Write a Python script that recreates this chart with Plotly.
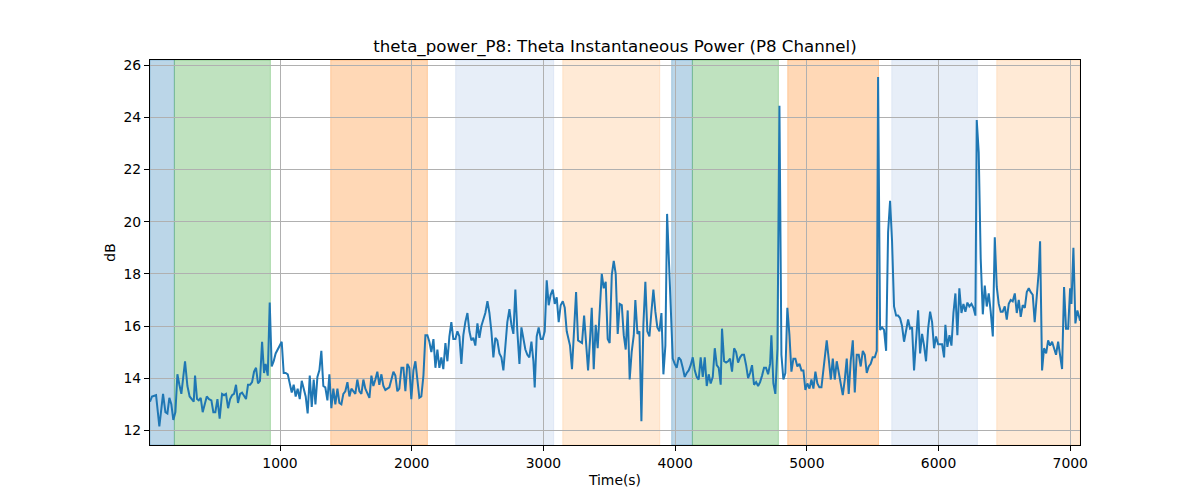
import plotly.graph_objects as go

# ---- data ----
time_s = [
    13, 28, 59, 84, 112, 130, 145, 160, 175, 190, 206, 221, 236, 251, 279, 297, 314, 335, 345, 355,
    370, 383, 398, 413, 428, 444, 461, 479, 494, 509, 525, 542, 560, 575, 590, 606, 621, 636, 651, 666,
    681, 697, 712, 727, 742, 757, 773, 788, 803, 818, 833, 848, 864, 879, 891, 907, 922, 937, 952, 967,
    985, 1013, 1028, 1043, 1059, 1074, 1089, 1104, 1119, 1134, 1150, 1165, 1180, 1195, 1210, 1226, 1241, 1256,
    1269, 1284, 1299, 1314, 1329, 1344, 1360, 1375, 1390, 1405, 1420, 1436, 1451, 1466, 1481, 1496, 1512, 1527, 1542, 1557,
    1572, 1587, 1603, 1618, 1633, 1648, 1663, 1679, 1694, 1709, 1724, 1739, 1754, 1770, 1785, 1800, 1815, 1830, 1846, 1861,
    1876, 1891, 1906, 1922, 1937, 1952, 1967, 1982, 1997, 2013, 2028, 2043, 2058, 2073, 2089, 2104, 2119, 2134, 2149, 2165,
    2180, 2195, 2210, 2225, 2240, 2256, 2271, 2286, 2301, 2316, 2332, 2347, 2362, 2377, 2392, 2407, 2423, 2438, 2453, 2468,
    2483, 2499, 2514, 2529, 2544, 2559, 2575, 2590, 2605, 2620, 2635, 2650, 2666, 2681, 2696, 2711, 2726, 2742, 2757, 2772,
    2787, 2802, 2818, 2833, 2848, 2863, 2878, 2893, 2909, 2924, 2934, 2949, 2964, 2980, 2995, 3010, 3025, 3040, 3055, 3071,
    3086, 3101, 3116, 3131, 3147, 3162, 3177, 3192, 3202, 3217, 3233, 3248, 3263, 3278, 3293, 3309, 3324, 3339, 3354, 3367,
    3382, 3397, 3412, 3428, 3443, 3458, 3473, 3488, 3503, 3519, 3534, 3549, 3564, 3579, 3595, 3610, 3625, 3640, 3655, 3670, 3686,
    3698, 3714, 3729, 3744, 3759, 3774, 3789, 3805, 3820, 3835, 3850, 3865, 3881, 3896, 3911, 3926, 3939, 3951, 3967, 3982,
    3997, 4012, 4027, 4043, 4058, 4073, 4088, 4103, 4118, 4134, 4149, 4164, 4179, 4194, 4210, 4225, 4240, 4255, 4270, 4286,
    4301, 4316, 4331, 4346, 4356, 4372, 4387, 4402, 4417, 4432, 4448, 4463, 4478, 4493, 4508, 4523, 4539, 4554, 4569, 4584,
    4599, 4615, 4630, 4645, 4660, 4675, 4690, 4706, 4721, 4731, 4746, 4761, 4777, 4792, 4807, 4822, 4837, 4852, 4868, 4883, 4898,
    4913, 4928, 4944, 4959, 4974, 4989, 5004, 5020, 5035, 5050, 5065, 5080, 5095, 5111, 5126, 5141, 5151, 5166, 5182, 5197,
    5212, 5227, 5242, 5257, 5273, 5288, 5303, 5318, 5333, 5349, 5364, 5379, 5394, 5409, 5425, 5440, 5455, 5470, 5485, 5500,
    5516, 5531, 5541, 5556, 5571, 5586, 5602, 5617, 5632, 5647, 5662, 5678, 5693, 5708, 5723, 5738, 5754, 5769, 5784, 5799,
    5814, 5829, 5845, 5860, 5875, 5890, 5905, 5921, 5936, 5951, 5966, 5981, 5997, 6012, 6027, 6042,
    6052, 6067, 6083, 6098, 6113, 6128, 6143, 6158, 6174, 6189, 6204, 6219, 6234, 6250, 6265, 6280, 6290, 6305, 6320, 6336,
    6351, 6366, 6381, 6396, 6412, 6427, 6442, 6457, 6472, 6487, 6503, 6518, 6533, 6548, 6563, 6579, 6594, 6609, 6624, 6639,
    6655, 6670, 6685, 6700, 6715, 6730, 6746, 6761, 6771, 6786, 6801, 6817, 6832, 6847, 6862, 6877, 6892, 6908, 6923, 6938,
    6953, 6968, 6984, 6999, 7009, 7024, 7039, 7054, 7070, 7074,
]

power_db = [
    13.1, 13.3, 13.35, 12.15, 13.4, 12.7, 12.65, 13.25, 13.0, 12.4, 12.7, 14.15, 13.75, 13.4, 14.65, 13.7, 13.3, 13.15, 13.1, 14.1,
    13.2, 13.15, 13.25, 12.7, 12.95, 13.3, 13.2, 13.15, 12.7, 12.7, 13.2, 12.45, 13.4, 13.35, 13.4, 12.85, 13.2, 13.35, 13.4, 13.75,
    13.05, 13.4, 13.45, 13.3, 13.2, 13.75, 13.75, 13.85, 14.25, 14.4, 13.8, 13.9, 15.4, 14.2, 14.55, 14.1, 16.9, 14.45, 14.65, 14.95,
    15.15, 15.4, 14.2, 14.2, 14.15, 13.75, 13.45, 13.75, 13.3, 13.6, 13.2, 13.9, 13.6, 13.3, 12.65, 14.1, 12.9, 13.95,
    13.0, 14.05, 14.3, 15.05, 13.7, 13.65, 13.15, 14.15, 12.85, 13.6, 13.0, 13.6, 13.05, 13.0, 13.4, 13.5, 13.85, 13.3, 13.6, 13.5,
    13.4, 13.95, 13.5, 13.4, 13.95, 13.6, 13.4, 13.25, 14.1, 13.7, 13.95, 14.25, 13.75, 14.15, 13.7, 13.55, 13.6, 13.65, 13.95, 14.25,
    14.1, 13.5, 13.6, 14.4, 14.4, 13.5, 14.55, 14.4, 13.2, 14.3, 14.65, 13.95, 13.25, 13.3, 14.1, 15.65, 15.65, 15.4, 15.0, 15.5,
    14.4, 15.1, 14.4, 14.8, 14.35, 15.35, 14.65, 15.6, 16.15, 15.5, 15.5, 15.8, 15.6, 14.55, 15.65, 16.15, 16.5, 15.8, 15.45, 15.55,
    15.25, 16.1, 15.55, 16.0, 16.25, 16.5, 16.95, 16.5, 15.8, 14.8, 15.55, 15.45, 14.95, 14.8, 14.3, 15.15, 16.15, 16.65, 16.05, 15.7,
    17.4, 15.8, 14.55, 15.95, 15.45, 15.1, 14.9, 14.8, 15.4, 14.65, 13.65, 15.6, 15.95, 15.5, 15.5, 15.8, 17.75, 16.8, 17.2, 17.4,
    16.85, 17.1, 16.15, 16.8, 16.95, 16.7, 15.8, 15.5, 15.25, 14.35, 16.15, 17.3, 15.45, 15.4, 15.35, 16.4, 15.4, 14.3, 15.5, 16.7,
    14.35, 16.05, 15.15, 16.95, 18.0, 17.45, 17.7, 15.5, 15.35, 17.95, 18.5, 18.0, 15.7, 16.85, 16.8, 15.65, 15.1, 16.6, 13.95, 15.0, 15.65,
    17.0, 15.7, 15.8, 12.35, 16.05, 17.7, 15.8, 15.6, 16.55, 17.4, 16.55, 15.95, 15.8, 16.5, 14.15, 15.25, 20.3, 18.85, 16.65, 14.75,
    14.55, 14.4, 14.8, 14.7, 14.4, 14.05, 14.2, 14.3, 14.5, 14.8, 14.3, 14.05, 13.95, 14.8, 14.05, 14.8, 13.7, 14.15, 13.8, 14.05,
    15.15, 14.5, 14.4, 13.75, 15.9, 14.65, 14.6, 14.65, 14.75, 14.25, 15.15, 15.0, 14.6, 14.8, 14.9, 14.9, 14.5, 14.0, 14.2, 14.5,
    13.75, 13.85, 13.7, 13.85, 14.1, 14.4, 14.4, 14.15, 14.55, 15.65, 13.8, 13.4, 15.15, 24.45, 14.9, 13.95, 14.2, 16.7, 15.65, 14.25, 14.75,
    14.75, 14.45, 14.55, 14.3, 14.3, 13.55, 13.8, 13.6, 13.95, 13.6, 14.25, 13.8, 13.65, 13.65, 14.4, 15.0, 15.45, 14.75, 13.95, 14.75,
    13.95, 14.65, 14.25, 13.75, 13.35, 13.95, 14.75, 13.4, 14.65, 15.45, 13.45, 14.9, 14.9, 14.45, 15.05, 14.9, 14.2, 14.45, 14.55, 14.8,
    14.8, 15.05, 25.55, 15.85, 15.95, 15.85, 15.05, 19.6, 20.8, 19.25, 16.75, 16.4, 16.4, 16.3, 16.0, 15.4, 15.8, 16.25, 15.9, 15.95,
    14.3, 15.65, 16.6, 14.95, 15.7, 15.25, 14.65, 15.9, 16.55, 16.15, 15.15, 15.6, 15.3, 15.3, 15.3, 14.8,
    16.05, 15.2, 15.65, 15.25, 16.5, 17.25, 15.65, 17.45, 16.5, 16.85, 16.55, 16.9, 16.75, 16.85, 16.7, 16.4, 23.9, 22.65, 18.6, 16.45,
    17.55, 16.75, 17.25, 16.55, 15.6, 19.4, 17.5, 16.85, 16.55, 16.55, 16.75, 16.25, 16.85, 17.0, 16.95, 17.25, 16.5, 17.0, 16.35, 16.8,
    16.7, 17.3, 17.45, 17.3, 17.2, 16.15, 17.05, 18.1, 19.25, 14.3, 15.15, 14.95, 15.45, 15.25, 15.4, 15.15, 14.9, 15.4, 14.95, 14.35,
    17.5, 15.9, 15.9, 17.45, 16.85, 19.0, 16.1, 16.6, 16.3, 16.2,
]

span_starts = [13, 198, 1385, 2334, 3147, 3974, 4131, 4855, 5645, 6442]
span_ends = [198, 927, 2119, 3078, 3883, 4131, 4784, 5544, 6295, 7074]
span_colors = ["31,119,180", "44,160,44", "255,127,14", "174,199,232", "255,187,120",
               "31,119,180", "44,160,44", "255,127,14", "174,199,232", "255,187,120"]

x_ticks = [1000, 2000, 3000, 4000, 5000, 6000, 7000]
y_ticks = [12, 14, 16, 18, 20, 22, 24, 26]

FONT = "DejaVu Sans"
TICK_SIZE = 13.9
TITLE_SIZE = 16.67

fig = go.Figure()

for s, e, c in zip(span_starts, span_ends, span_colors):
    fig.add_vrect(x0=s, x1=e, fillcolor=f"rgba({c},0.3)",
                  line=dict(color=f"rgba({c},0.3)", width=1), layer="below")

fig.add_trace(go.Scatter(x=time_s, y=power_db, mode="lines",
                         line=dict(color="#1f77b4", width=2), showlegend=False))

axis_common = dict(
    showgrid=True, gridcolor="#b0b0b0", gridwidth=1,
    showline=True, linecolor="black", linewidth=1, mirror=True,
    ticks="outside", ticklen=5, tickwidth=1, tickcolor="black",
    tickfont=dict(family=FONT, size=TICK_SIZE, color="black"),
    zeroline=False,
)

fig.update_layout(
    width=1200, height=500,
    margin=dict(l=150, r=120, t=60, b=55),
    paper_bgcolor="white", plot_bgcolor="white",
    font=dict(family=FONT, color="black"),
    title=dict(text="theta_power_P8: Theta Instantaneous Power (P8 Channel)",
               x=0.5, xref="paper", xanchor="center",
               y=1 - 46 / 500, yref="container", yanchor="middle",
               font=dict(family=FONT, size=TITLE_SIZE, color="black")),
    xaxis=dict(range=[13, 7074], tickvals=x_ticks,
               title=dict(text="Time(s)", font=dict(family=FONT, size=TICK_SIZE, color="black"), standoff=5),
               **axis_common),
    yaxis=dict(range=[11.44, 26.2], tickvals=y_ticks,
               title=dict(text="dB", font=dict(family=FONT, size=TICK_SIZE, color="black"), standoff=4),
               **axis_common),
)

fig.write_html("out.html")
